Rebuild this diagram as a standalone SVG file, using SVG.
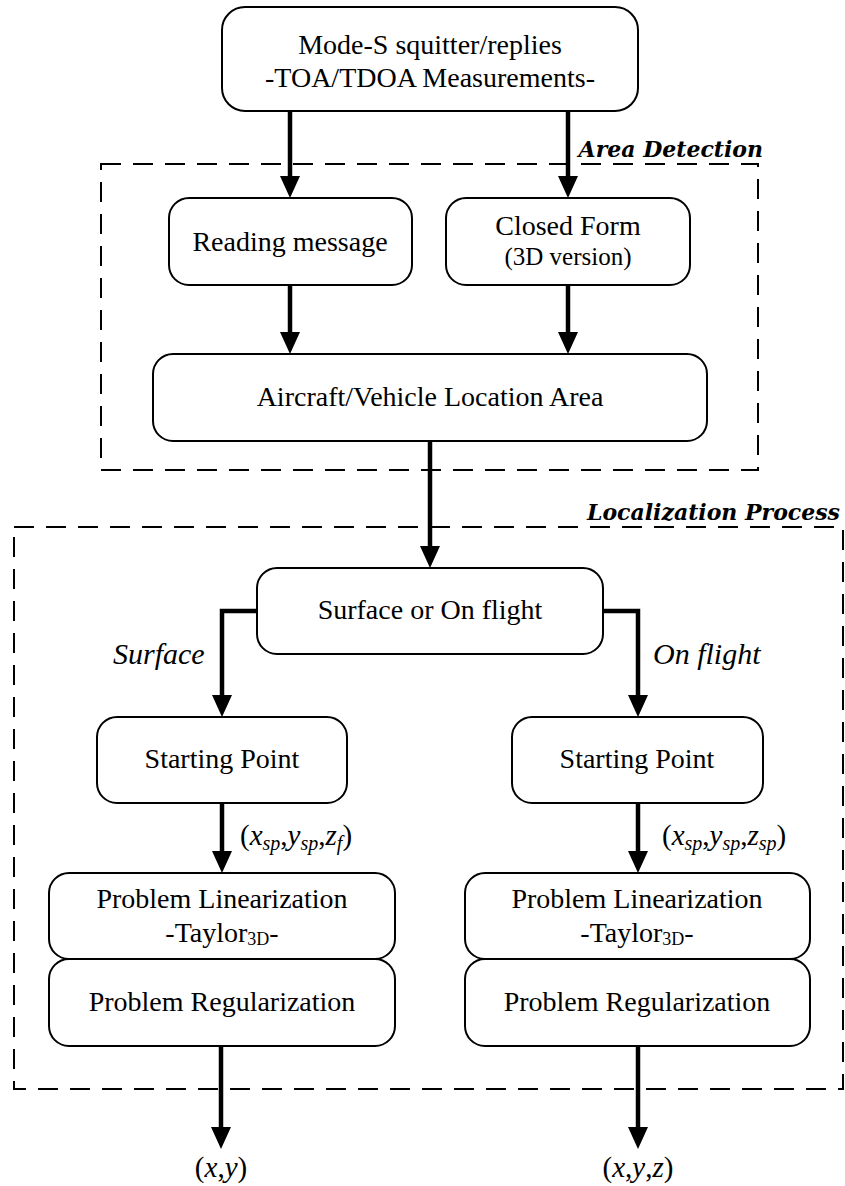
<svg xmlns="http://www.w3.org/2000/svg" width="845" height="1186" viewBox="0 0 845 1186">
  <defs>
    <marker id="head" markerUnits="userSpaceOnUse" markerWidth="22" markerHeight="20" viewBox="0 0 22 20" refX="1" refY="10" orient="auto">
      <path d="M0,0 L22,10 L0,20 z" fill="#000000"/>
    </marker>
  </defs>

  <!-- section frames -->
  <g id="area-detection">
    <rect x="101" y="164" width="657" height="306" fill="none" stroke="#000000" stroke-width="2" stroke-dasharray="20 12"/>
    <text x="763" y="157" text-anchor="end" style="font-family: 'DejaVu Serif', serif; font-size: 22px; font-weight: bold; font-style: italic">Area Detection</text>
  </g>
  <g id="localization-process">
    <rect x="14" y="527" width="829" height="562" fill="none" stroke="#000000" stroke-width="2" stroke-dasharray="20 12"/>
    <text x="840" y="520" text-anchor="end" style="font-family: 'DejaVu Serif', serif; font-size: 22px; font-weight: bold; font-style: italic">Localization Process</text>
  </g>

  <!-- connectors -->
  <g id="connectors" fill="none" stroke="#000000" stroke-width="4.5" marker-end="url(#head)">
    <path d="M290,111 V177"/>
    <path d="M568,111 V177"/>
    <path d="M290,285 V333"/>
    <path d="M568,285 V333"/>
    <path d="M430,441 V547"/>
    <path d="M257,611 H222 V696"/>
    <path d="M603,611 H638 V696"/>
    <path d="M222,803 V852"/>
    <path d="M638,803 V852"/>
    <path d="M221,1046 V1128"/>
    <path d="M638,1046 V1128"/>
  </g>

  <!-- nodes -->
  <g id="measurements">
    <rect x="222" y="7" width="416" height="104" rx="23" fill="#ffffff" stroke="#000000" stroke-width="2"/>
    <text x="430" y="54" text-anchor="middle" style="font-family: 'Liberation Serif', serif; font-size: 28px">Mode-S squitter/replies</text>
    <text x="430" y="87" text-anchor="middle" style="font-family: 'Liberation Serif', serif; font-size: 28px">-TOA/TDOA Measurements-</text>
  </g>
  <g id="reading-message">
    <rect x="169" y="198" width="243" height="87" rx="20" fill="#ffffff" stroke="#000000" stroke-width="2"/>
    <text x="290" y="251" text-anchor="middle" style="font-family: 'Liberation Serif', serif; font-size: 28px">Reading message</text>
  </g>
  <g id="closed-form">
    <rect x="446" y="198" width="244" height="87" rx="20" fill="#ffffff" stroke="#000000" stroke-width="2"/>
    <text x="568" y="235" text-anchor="middle" style="font-family: 'Liberation Serif', serif; font-size: 28px">Closed Form</text>
    <text x="568" y="265" text-anchor="middle" style="font-family: 'Liberation Serif', serif; font-size: 25px">(3D version)</text>
  </g>
  <g id="location-area">
    <rect x="153" y="354" width="554" height="87" rx="20" fill="#ffffff" stroke="#000000" stroke-width="2"/>
    <text x="430" y="406" text-anchor="middle" style="font-family: 'Liberation Serif', serif; font-size: 28px">Aircraft/Vehicle Location Area</text>
  </g>
  <g id="surface-or-flight">
    <rect x="257" y="568" width="346" height="86" rx="20" fill="#ffffff" stroke="#000000" stroke-width="2"/>
    <text x="430" y="619" text-anchor="middle" style="font-family: 'Liberation Serif', serif; font-size: 28px">Surface or On flight</text>
  </g>
  <text x="113" y="664" style="font-family: 'Liberation Serif', serif; font-size: 30px; font-style: italic">Surface</text>
  <text x="653" y="664" style="font-family: 'Liberation Serif', serif; font-size: 30px; font-style: italic">On flight</text>

  <g id="start-surface">
    <rect x="97" y="717" width="250" height="86" rx="20" fill="#ffffff" stroke="#000000" stroke-width="2"/>
    <text x="222" y="768" text-anchor="middle" style="font-family: 'Liberation Serif', serif; font-size: 28px">Starting Point</text>
  </g>
  <g id="start-flight">
    <rect x="512" y="717" width="251" height="86" rx="20" fill="#ffffff" stroke="#000000" stroke-width="2"/>
    <text x="637" y="768" text-anchor="middle" style="font-family: 'Liberation Serif', serif; font-size: 28px">Starting Point</text>
  </g>

  <text x="240" y="845" style="font-family: 'Liberation Serif', serif; font-size: 29px">(<tspan font-style="italic">x</tspan><tspan font-style="italic" font-size="20" dy="5">sp</tspan><tspan dy="-5">,</tspan><tspan font-style="italic">y</tspan><tspan font-style="italic" font-size="20" dy="5">sp</tspan><tspan dy="-5">,</tspan><tspan font-style="italic">z</tspan><tspan font-style="italic" font-size="20" dy="5">f</tspan><tspan dy="-5">)</tspan></text>
  <text x="662" y="845" style="font-family: 'Liberation Serif', serif; font-size: 29px">(<tspan font-style="italic">x</tspan><tspan font-style="italic" font-size="20" dy="5">sp</tspan><tspan dy="-5">,</tspan><tspan font-style="italic">y</tspan><tspan font-style="italic" font-size="20" dy="5">sp</tspan><tspan dy="-5">,</tspan><tspan font-style="italic">z</tspan><tspan font-style="italic" font-size="20" dy="5">sp</tspan><tspan dy="-5">)</tspan></text>

  <g id="linearization-surface">
    <rect x="49" y="873" width="346" height="86" rx="20" fill="#ffffff" stroke="#000000" stroke-width="2"/>
    <text x="222" y="908" text-anchor="middle" style="font-family: 'Liberation Serif', serif; font-size: 28px">Problem Linearization</text>
    <text x="222" y="942" text-anchor="middle" style="font-family: 'Liberation Serif', serif; font-size: 28px">-Taylor<tspan font-size="18" dy="3">3D</tspan><tspan dy="-3">-</tspan></text>
  </g>
  <g id="regularization-surface">
    <rect x="49" y="959" width="346" height="87" rx="20" fill="#ffffff" stroke="#000000" stroke-width="2"/>
    <text x="222" y="1011" text-anchor="middle" style="font-family: 'Liberation Serif', serif; font-size: 28px">Problem Regularization</text>
  </g>
  <g id="linearization-flight">
    <rect x="465" y="873" width="345" height="86" rx="20" fill="#ffffff" stroke="#000000" stroke-width="2"/>
    <text x="637" y="908" text-anchor="middle" style="font-family: 'Liberation Serif', serif; font-size: 28px">Problem Linearization</text>
    <text x="637" y="942" text-anchor="middle" style="font-family: 'Liberation Serif', serif; font-size: 28px">-Taylor<tspan font-size="18" dy="3">3D</tspan><tspan dy="-3">-</tspan></text>
  </g>
  <g id="regularization-flight">
    <rect x="465" y="959" width="345" height="87" rx="20" fill="#ffffff" stroke="#000000" stroke-width="2"/>
    <text x="637" y="1011" text-anchor="middle" style="font-family: 'Liberation Serif', serif; font-size: 28px">Problem Regularization</text>
  </g>

  <text x="221" y="1177" text-anchor="middle" style="font-family: 'Liberation Serif', serif; font-size: 29px">(<tspan font-style="italic">x</tspan>,<tspan font-style="italic">y</tspan>)</text>
  <text x="638" y="1177" text-anchor="middle" style="font-family: 'Liberation Serif', serif; font-size: 29px">(<tspan font-style="italic">x</tspan>,<tspan font-style="italic">y</tspan>,<tspan font-style="italic">z</tspan>)</text>
</svg>
